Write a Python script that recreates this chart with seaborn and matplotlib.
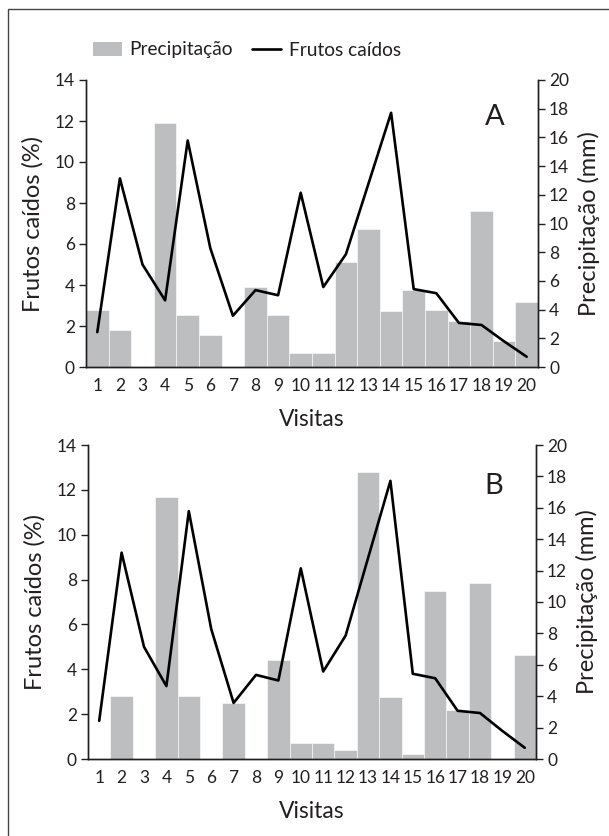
import matplotlib
matplotlib.use("Agg")
import matplotlib.pyplot as plt
import seaborn as sns
import numpy as np
import pandas as pd
from matplotlib.patches import Patch, Rectangle
from matplotlib.lines import Line2D

sns.set_theme(style="white")
plt.rcParams['font.family'] = ['Lato', 'DejaVu Sans']

visitas = list(range(1, 21))
frutos_caidos = [1.7, 9.2, 5.0, 3.25, 11.05, 5.8, 2.5, 3.75, 3.5, 8.5,
                 3.9, 5.5, 8.95, 12.4, 3.8, 3.6, 2.15, 2.05, 1.25, 0.5]
precip_A = [4.0, 2.6, 0, 17.0, 3.6, 2.2, 0, 5.6, 3.6, 1.0,
            1.0, 7.3, 9.6, 3.9, 5.4, 4.0, 3.2, 10.9, 1.8, 4.5]
precip_B = [0, 4.0, 0, 16.7, 4.0, 0, 3.55, 0, 6.3, 1.0,
            1.0, 0.55, 18.25, 3.95, 0.35, 10.7, 3.15, 11.2, 0, 6.65]
panels = ["A", "B"]

BAR = "#bcbec0"
INK = "#231f20"

W, H = 609, 836
fig = plt.figure(figsize=(W / 100, H / 100), dpi=100)

# axes rectangles in pixels: left, right, top, bottom
rects = [(86, 538, 80, 367), (88, 536, 445, 759)]


def style_ax(ax):
    for s in ax.spines.values():
        s.set_color(INK)
        s.set_linewidth(1.0)


for precip, letter, (l, r, t, b) in zip([precip_A, precip_B], panels, rects):
    ax = fig.add_axes([l / W, 1 - b / H, (r - l) / W, (b - t) / H])
    ax2 = ax.twinx()
    df = pd.DataFrame({"Visitas": visitas, "Frutos": frutos_caidos, "Precip": precip})
    sns.barplot(data=df, x="Visitas", y="Precip", ax=ax2, color=BAR, width=1.0,
                saturation=1, native_scale=True, edgecolor="white", linewidth=0.4)
    sns.lineplot(data=df, x="Visitas", y="Frutos", ax=ax, color="black", linewidth=1.9)
    ax.set_zorder(ax2.get_zorder() + 1)
    ax.patch.set_visible(False)

    ax.set_xlim(0.5, 20.5)
    ax.set_ylim(0, 14)
    ax2.set_ylim(0, 20)
    ax.set_yticks(np.arange(0, 15, 2))
    ax2.set_yticks(np.arange(0, 21, 2))
    ax.set_xticks(visitas)
    ax.set_xticklabels([str(v) for v in visitas])
    ax.set_xticks(np.arange(0.5, 21, 1), minor=True)
    ax.tick_params(axis="x", which="major", length=0, pad=8, labelsize=12.5, colors=INK)
    ax.tick_params(axis="x", which="minor", length=10, width=1, direction="inout", color=INK)
    ax.tick_params(axis="y", which="major", left=True, length=5, width=1, direction="out",
                   labelsize=12.5, colors=INK, pad=3)
    ax2.tick_params(axis="y", which="major", right=True, length=5, width=1, direction="out",
                    labelsize=12.5, colors=INK, pad=3)
    for a in (ax, ax2):
        style_ax(a)
        a.spines["top"].set_visible(False)
        a.grid(False)
    ax2.set_xlabel("")
    ax.set_xlabel("Visitas", fontsize=16.5, color=INK, labelpad=11)
    ax.set_ylabel("Frutos caídos (%)", fontsize=17, color=INK, labelpad=8)
    ax2.set_ylabel("Precipitação (mm)", fontsize=17, color=INK, labelpad=6, rotation=90)
    ax.text(0.905, 0.87, letter, transform=ax.transAxes, fontsize=21, color=INK,
            ha="center", va="center")

handles = [Patch(facecolor=BAR, edgecolor="none"),
           Line2D([0], [0], color="black", linewidth=1.9)]
fig.legend(handles, ["Precipitação", "Frutos caídos"], loc="center",
           bbox_to_anchor=(247 / W, 1 - 50 / H), ncol=2, frameon=False,
           fontsize=13.8, handlelength=1.5, handletextpad=0.4, columnspacing=1.0,
           labelcolor=INK)

fig.add_artist(Rectangle((8 / W, -0.1), 1.2, 1.1 - 9 / H, transform=fig.transFigure,
                         fill=False, edgecolor="#444444", linewidth=1.0))

fig.savefig("out.png", dpi=100)
